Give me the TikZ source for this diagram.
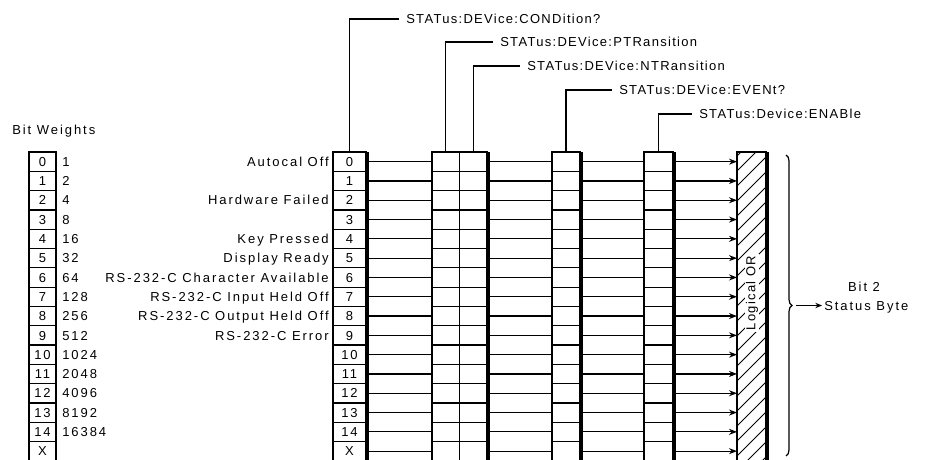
\documentclass[tikz,border=0pt]{standalone}
\usepackage{fontspec}
\setmainfont{Liberation Sans}[LetterSpace=10]
\newfontfamily\widefont{Liberation Sans}[LetterSpace=15]
\usetikzlibrary{arrows.meta,decorations.pathreplacing}
\tikzset{
  lblfont/.style={font=\fontsize{9.75}{11}\selectfont},
  widelbl/.style={font=\widefont\fontsize{9.75}{11}\selectfont},
  cell/.style={draw, line width=0.9pt, minimum height=14.475pt, inner sep=0pt, outer sep=0pt,
               text height=7pt, text depth=0pt, widelbl},
  condcell/.style={cell, minimum width=24.75pt},
  ptrcell/.style={cell, minimum width=20.625pt},
  evtcell/.style={cell, minimum width=21pt},
  enacell/.style={cell, minimum width=21.75pt},
  wtcell/.style={cell, minimum width=20.25pt},
  shadowedge/.style={line width=2.6pt},
  conn/.style={line width=0.9pt},
  arr/.style={conn, -{Stealth[length=6pt,width=4.5pt]}},
  toplbl/.style={anchor=west, inner xsep=5.25pt, inner ysep=0pt, text height=7pt, text depth=0pt, lblfont},
  sidelbl/.style={anchor=east, inner sep=0pt, text height=7pt, text depth=0pt, widelbl},
  wtlbl/.style={anchor=west, inner sep=0pt, text height=7pt, text depth=0pt, widelbl},
}
\begin{document}
\begin{tikzpicture}[x=0.75pt, y=-0.75pt]
\useasboundingbox (0,0) rectangle (925,460);
\fill[white] (0,0) rectangle (925,460);
\clip (0,0) rectangle (925,460);

% title
\node[wtlbl] (bw) at (12,130) {Bit Weights};

% rows of cells
\foreach \i/\t in {0/0,1/1,2/2,3/3,4/4,5/5,6/6,7/7,8/8,9/9,10/10,11/11,12/12,13/13,14/14,15/X} {
  \pgfmathsetmacro\yc{161.65+19.3*\i}
  \node[wtcell] (wt-\i) at (42.5,\yc) {\t};
  \node[condcell] (cond-\i) at (349.5,\yc) {\t};
  \node[ptrcell] (ptr-\i) at (445.75,\yc) {};
  \node[ptrcell] (ntr-\i) at (473.25,\yc) {};
  \node[evtcell] (evt-\i) at (566,\yc) {};
  \node[enacell] (ena-\i) at (658.5,\yc) {};
}

% bit weights values
\foreach \i/\w in {0/1,1/2,2/4,3/8,4/16,5/32,6/64,7/128,8/256,9/512,10/1024,11/2048,12/4096,13/8192,14/16384} {
  \node[wtlbl] (wv-\i) at ([xshift=4.5pt]wt-\i.east) {\w};
}

% row labels
\foreach \i/\l in {0/Autocal Off,2/Hardware Failed,4/Key Pressed,5/Display Ready,6/RS-232-C Character Available,7/RS-232-C Input Held Off,8/RS-232-C Output Held Off,9/RS-232-C Error} {
  \node[sidelbl] (sl-\i) at ([xshift=-3pt]cond-\i.west) {\l};
}

% logical OR box
\node[draw, line width=0.9pt, minimum width=21.75pt, minimum height=231.6pt, inner sep=0pt, outer sep=0pt] (orbox) at (751.5,306.4) {};
\begin{scope}
  \clip (orbox.south west) rectangle (orbox.north east);
  \foreach \k in {-1,...,22} {
    \draw[line width=0.6pt] (737,{156+15*\k}) -- ++(31,-31);
  }
\end{scope}
\node[rotate=90, fill=white, inner xsep=1pt, inner ysep=0.5pt, lblfont] (lor) at (752,293) {Logical OR};

% connectors between registers
\foreach \i in {0,...,15} {
  \draw[conn] (cond-\i.east) -- (ptr-\i.west);
  \draw[conn] (ntr-\i.east) -- (evt-\i.west);
  \draw[conn] (evt-\i.east) -- (ena-\i.west);
  \draw[arr] (ena-\i.east) -- (ena-\i.east -| orbox.west);
}

% shadow edges
\draw[shadowedge] ([xshift=1pt]cond-0.north east) -- ([xshift=1pt]cond-15.south east);
\draw[shadowedge] ([xshift=1pt]ntr-0.north east) -- ([xshift=1pt]ntr-15.south east);
\draw[shadowedge] ([xshift=1pt]evt-0.north east) -- ([xshift=1pt]evt-15.south east);
\draw[shadowedge] ([xshift=1pt]ena-0.north east) -- ([xshift=1pt]ena-15.south east);
\draw[shadowedge] ([xshift=1pt]orbox.north east) -- ([xshift=1pt]orbox.south east);

% top labels
\node[toplbl] (lcond) at (399,19) {STATus:DEVice:CONDition?};
\node[toplbl] (lptr) at (493,42) {STATus:DEVice:PTRansition};
\node[toplbl] (lntr) at (520,66) {STATus:DEVice:NTRansition};
\node[toplbl] (levt) at (612,90) {STATus:DEVice:EVENt?};
\node[toplbl] (lena) at (692,114) {STATus:Device:ENABle};
\draw[conn] (cond-0.north) |- (lcond.west);
\draw[conn] (ptr-0.north) |- (lptr.west);
\draw[conn] (ntr-0.north) |- (lntr.west);
\draw[conn] (evt-0.north) |- (levt.west);
\draw[conn] (ena-0.north) |- (lena.west);

% brace and status byte
\coordinate (brt) at (786,155);
\coordinate (brb) at (786,456);
\draw[conn, decorate, decoration={brace, amplitude=4.5pt}] (brt) -- (brb);
\coordinate (tip) at (796,305.5);
\node[anchor=west, inner xsep=1.5pt, inner ysep=0pt, text height=7pt, text depth=0pt, widelbl] (sb) at (822,305.5) {Status Byte};
\node[inner sep=0pt, text height=7pt, text depth=0pt, widelbl] (b2) at (864,287) {Bit 2};
\draw[line width=0.9pt, -{Stealth[length=5pt,width=4pt]}] (tip) -- (sb.west);
\end{tikzpicture}
\end{document}
